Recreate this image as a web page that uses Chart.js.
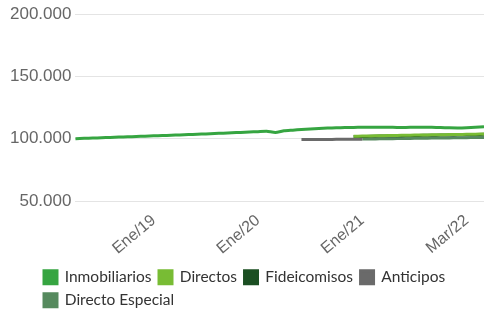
<!DOCTYPE html>
<html>
<head>
<meta charset="utf-8">
<script src="https://cdn.jsdelivr.net/npm/chart.js@4"></script>
<style>
  html, body { margin: 0; padding: 0; background: #fff; }
  #wrap { width: 484px; height: 310px; position: relative; }
</style>
</head>
<body>
<div id="wrap"><canvas id="chart"></canvas></div>
<script>
// Monthly points (Ene/22 and Feb/22 not in the series)
const months = [
    'Abr/18', 'May/18', 'Jun/18', 'Jul/18', 'Ago/18', 'Sep/18', 'Oct/18', 'Nov/18', 'Dic/18',
    'Ene/19', 'Feb/19', 'Mar/19', 'Abr/19', 'May/19', 'Jun/19', 'Jul/19', 'Ago/19', 'Sep/19', 'Oct/19', 'Nov/19', 'Dic/19',
    'Ene/20', 'Feb/20', 'Mar/20', 'Abr/20', 'May/20', 'Jun/20', 'Jul/20', 'Ago/20', 'Sep/20', 'Oct/20', 'Nov/20', 'Dic/20',
    'Ene/21', 'Feb/21', 'Mar/21', 'Abr/21', 'May/21', 'Jun/21', 'Jul/21', 'Ago/21', 'Sep/21', 'Oct/21', 'Nov/21', 'Dic/21',
    'Mar/22', 'Abr/22', 'May/22'
];
const shownLabels = ['Ene/19', 'Ene/20', 'Ene/21', 'Mar/22'];

const inmobiliarios = [
    100000, 100300, 100550, 100800, 101050, 101300, 101550, 101800, 102050, 102300,
    102550, 102800, 103050, 103300, 103600, 103900, 104200, 104500, 104800, 105100, 105400, 105700,
    106000, 105000, 106400, 106900, 107400, 107900, 108300, 108600, 108800, 109000, 109100, 109200,
    109300, 109300, 109200, 109100, 109100, 109200, 109300, 109200, 109000, 108800, 108700, 108900,
    109300, 109700
];
const directos = [
    null, null, null, null, null, null, null, null, null, null,
    null, null, null, null, null, null, null, null, null, null, null, null,
    null, null, null, null, null, null, null, null, null, null, 102000, 102100,
    102250, 102400, 102500, 102650, 102800, 102900, 103000, 103100, 103250, 103300, 103400, 103550,
    103700, 103900
];
const fideicomisos = [
    null, null, null, null, null, null, null, null, null, null,
    null, null, null, null, null, null, null, null, null, null, null, null,
    null, null, null, null, null, null, null, null, null, null, 101700, 101800,
    101950, 102100, 102200, 102350, 102500, 102600, 102700, 102800, 102950, 103000, 103100, 103250,
    103400, 103600
];
const anticipos = [
    null, null, null, null, null, null, null, null, null, null,
    null, null, null, null, null, null, null, null, null, null, null, null,
    null, null, null, null, 99300, 99350, 99400, 99450, 99500, 99550, 99600, 99650,
    null, null, null, null, null, null, null, null, null, null, null, null,
    null, null
];
const directoEspecial = [
    null, null, null, null, null, null, null, null, null, null,
    null, null, null, null, null, null, null, null, null, null, null, null,
    null, null, null, null, null, null, null, null, null, null, null, 99700,
    99800, 99900, 100000, 100100, 100200, 100300, 100400, 100500, 100550, 100650, 100750, 100850,
    100950, 101050
];
const yTicks = [50000, 100000, 150000, 200000];

function series(label, data, color) {
    return {
        label: label,
        data: data,
        borderColor: color,
        backgroundColor: color,
        borderWidth: 3,
        pointRadius: 0,
        tension: 0.2,
        fill: false
    };
}

// push the bottom legend right so both rows start under the plot
const legendShift = {
    id: 'legendShift',
    afterLayout(chart) {
        if (chart.legend) {
            chart.legend.left += 30.5;
            chart.legend.right += 30.5;
        }
    }
};

const ctx = document.getElementById('chart').getContext('2d');
new Chart(ctx, {
    type: 'line',
    data: {
        labels: months,
        datasets: [
            series('Inmobiliarios', inmobiliarios, '#36a541'),
            series('Directos', directos, '#78bc34'),
            series('Fideicomisos', fideicomisos, '#1b4f22'),
            series('Anticipos', anticipos, '#6a6a6a'),
            series('Directo Especial', directoEspecial, '#568a5e')
        ]
    },
    options: {
        responsive: true,
        maintainAspectRatio: false,
        animation: false,
        layout: { padding: { left: 6, top: 8, right: 0, bottom: -8 } },
        plugins: {
            tooltip: { enabled: false },
            legend: {
                position: 'bottom',
                align: 'start',
                labels: {
                    boxWidth: 13,
                    boxHeight: 13,
                    padding: 7.5,
                    color: '#333',
                    font: { family: 'Lato', size: 15.5 }
                }
            }
        },
        scales: {
            x: {
                grid: { display: false, drawTicks: false },
                border: { display: false },
                afterFit: (axis) => {
                    axis.paddingRight = 0;
                    axis.paddingLeft = 0;
                    axis.height = 61;
                },
                ticks: {
                    autoSkip: false,
                    minRotation: 40,
                    maxRotation: 40,
                    color: '#666',
                    padding: 10,
                    font: { family: 'Liberation Sans', size: 16 },
                    callback: function(value) {
                        const lbl = months[value];
                        return shownLabels.includes(lbl) ? lbl : '';
                    }
                }
            },
            y: {
                min: 50000,
                max: 200000,
                afterBuildTicks: (axis) => { axis.ticks = yTicks.map(v => ({ value: v })); },
                grid: { color: '#e4e4e4', drawTicks: false },
                border: { display: false },
                ticks: {
                    color: '#666',
                    padding: 4,
                    font: { family: 'Liberation Sans', size: 17 },
                    callback: (value) => value.toLocaleString('de-DE')
                }
            }
        }
    },
    plugins: [legendShift]
});
</script>
</body>
</html>
